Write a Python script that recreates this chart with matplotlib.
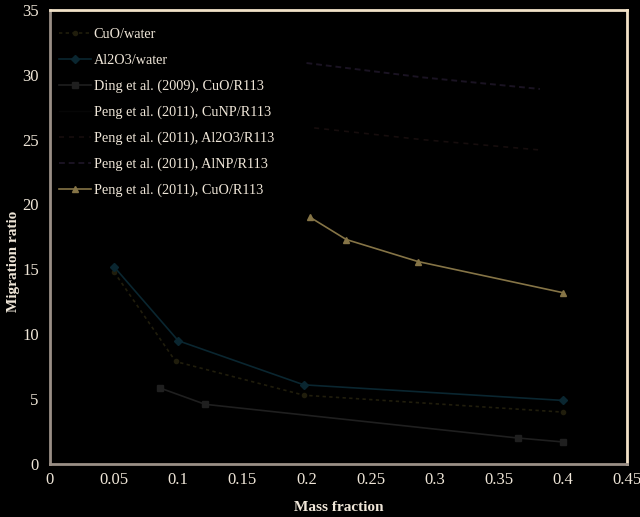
import matplotlib
matplotlib.use("Agg")
import matplotlib.pyplot as plt

# ---- data ----
cuo_water_x = [0.05, 0.098, 0.198, 0.40]
cuo_water_y = [14.8, 7.9, 5.3, 4.0]

al2o3_water_x = [0.05, 0.10, 0.198, 0.40]
al2o3_water_y = [15.2, 9.5, 6.1, 4.9]

ding_x = [0.086, 0.121, 0.365, 0.40]
ding_y = [5.85, 4.6, 2.0, 1.7]

peng_cunp_x = []
peng_cunp_y = []

peng_al2o3_x = [0.206, 0.29, 0.382]
peng_al2o3_y = [25.9, 25.0, 24.2]

peng_alnp_x = [0.20, 0.29, 0.382]
peng_alnp_y = [30.9, 29.8, 28.9]

peng_cuo_x = [0.203, 0.231, 0.287, 0.40]
peng_cuo_y = [19.0, 17.3, 15.6, 13.2]

labels = ["CuO/water", "Al2O3/water", "Ding et al. (2009), CuO/R113",
          "Peng et al. (2011), CuNP/R113", "Peng et al. (2011), Al2O3/R113",
          "Peng et al. (2011), AlNP/R113", "Peng et al. (2011), CuO/R113"]
xticks = [0, 0.05, 0.1, 0.15, 0.2, 0.25, 0.3, 0.35, 0.4, 0.45]
xticklabels = ["0", "0.05", "0.1", "0.15", "0.2", "0.25", "0.3", "0.35", "0.4", "0.45"]
yticks = [0, 5, 10, 15, 20, 25, 30, 35]

plt.rcParams['font.family'] = ['Liberation Serif', 'DejaVu Serif']
txt = '#efe6d8'

fig = plt.figure(figsize=(6.4, 5.17), dpi=100, facecolor='black')
ax = fig.add_axes([0.078, 0.1025, 0.902, 0.8785], facecolor='black')

ax.plot(cuo_water_x, cuo_water_y, color='#201d0c', ls=(0, (2, 2)), lw=1.2,
        marker='o', ms=3, label=labels[0])
ax.plot(al2o3_water_x, al2o3_water_y, color='#0a2630', lw=1.2,
        marker='D', ms=4, label=labels[1])
ax.plot(ding_x, ding_y, color='#1f1f1f', lw=1.2, marker='s', ms=4,
        label=labels[2])
ax.plot(peng_cunp_x, peng_cunp_y, color='#060606', lw=1.0, label=labels[3])
ax.plot(peng_al2o3_x, peng_al2o3_y, color='#160d0d', ls=(0, (3, 3)), lw=1.2,
        label=labels[4])
ax.plot(peng_alnp_x, peng_alnp_y, color='#1a1322', ls=(0, (3, 2)), lw=1.4,
        label=labels[5])
ax.plot(peng_cuo_x, peng_cuo_y, color='#857446', lw=1.2, marker='^', ms=5,
        label=labels[6])

ax.set_xlim(0, 0.45)
ax.set_ylim(0, 35)
ax.set_xticks(xticks)
ax.set_xticklabels(xticklabels)
ax.set_yticks(yticks)
ax.tick_params(length=0, colors=txt, labelsize=12)
ax.tick_params(axis='x', pad=6)
ax.tick_params(axis='y', pad=8)
for s in ['left', 'bottom']:
    ax.spines[s].set_color('#9a8f86')
    ax.spines[s].set_linewidth(2)
for s in ['top', 'right']:
    ax.spines[s].set_color('#f2e2c8')
    ax.spines[s].set_linewidth(2)

ax.set_xlabel("Mass fraction", color=txt, fontsize=11, fontweight='bold', labelpad=9)
ax.set_ylabel("Migration ratio", color=txt, fontsize=11, fontweight='bold')
ax.yaxis.set_label_coords(-0.052, 0.447)

leg = ax.legend(loc='upper left', bbox_to_anchor=(-0.016, 1.0), frameon=False,
                fontsize=10.3, labelcolor=txt, handlelength=2.2,
                labelspacing=0.88, borderaxespad=0.5, handletextpad=0.2,
                borderpad=0.8)

fig.savefig("out.png", dpi=100, facecolor='black')
